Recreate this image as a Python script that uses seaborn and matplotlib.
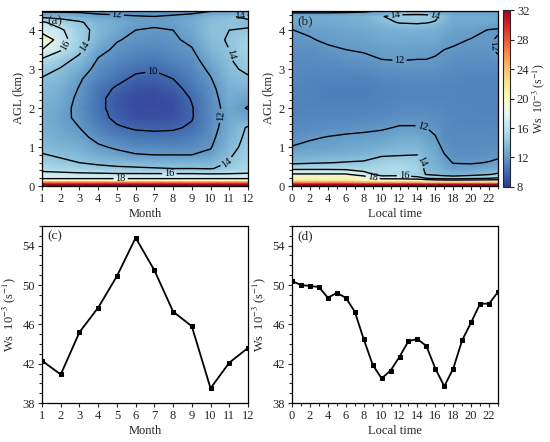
import numpy as np
import pandas as pd
import seaborn as sns
import matplotlib.pyplot as plt
import matplotlib.ticker as ticker

# heights of the profile grid (km AGL)
heights = [0.0, 0.05, 0.1, 0.15, 0.2, 0.3, 0.45, 0.6, 0.8, 1.0, 1.25, 1.5, 1.75,
           2.0, 2.25, 2.5, 2.75, 3.0, 3.25, 3.5, 3.75, 4.0, 4.2, 4.35, 4.5]

# (a) monthly mean profiles of Ws, one list per month
months = list(range(1, 13))
ws_month_height = [
    [33, 32, 27, 20, 17.6, 16.6, 15.4, 14.8, 14.1, 13.6, 13.3, 13.1, 13.0, 13.1, 13.3, 13.6, 13.9, 14.5, 15.8, 18.0, 20.0, 17.0, 16.3, 13.5, 11.5],
    [33, 32, 27, 20, 17.6, 16.5, 15.2, 14.3, 13.8, 13.2, 12.8, 12.5, 12.4, 12.5, 12.7, 13.0, 13.4, 13.9, 14.5, 16.2, 16.8, 16.3, 15.0, 13.3, 11.5],
    [33, 32, 27, 20, 17.6, 16.4, 14.9, 14.0, 13.5, 12.9, 12.4, 12.0, 11.7, 11.6, 11.7, 11.9, 12.2, 12.8, 13.7, 14.3, 14.8, 14.6, 14.2, 13.0, 11.5],
    [33, 32, 27, 20, 17.6, 16.4, 14.5, 13.7, 12.8, 12.2, 11.6, 11.0, 10.6, 10.4, 10.4, 10.6, 11.0, 11.5, 11.9, 12.5, 13.2, 13.5, 13.3, 12.5, 11.3],
    [33, 32, 27, 20, 17.6, 16.3, 14.3, 13.5, 12.4, 11.8, 11.0, 10.2, 9.6, 9.4, 9.4, 9.8, 10.4, 10.9, 11.3, 11.7, 12.1, 12.6, 12.8, 12.3, 11.2],
    [33, 32, 27, 20, 17.6, 16.3, 14.2, 13.4, 12.1, 11.4, 10.6, 9.8, 9.1, 8.9, 8.9, 9.2, 9.7, 10.3, 10.9, 11.3, 11.7, 12.0, 12.3, 12.1, 11.2],
    [33, 32, 27, 20, 17.6, 16.3, 14.1, 13.3, 12.0, 11.3, 10.5, 9.7, 9.0, 8.8, 8.8, 9.1, 9.6, 10.1, 10.7, 11.2, 11.6, 11.9, 12.2, 12.0, 11.2],
    [33, 32, 27, 20, 17.6, 16.3, 14.0, 13.2, 12.0, 11.2, 10.5, 9.8, 9.2, 9.0, 9.1, 9.5, 10.0, 10.6, 11.1, 11.5, 11.8, 12.0, 12.3, 12.2, 11.3],
    [33, 32, 27, 20, 17.6, 16.3, 14.0, 13.2, 12.0, 11.4, 10.9, 10.2, 9.9, 9.9, 10.1, 10.5, 10.9, 11.2, 11.5, 11.9, 12.3, 12.6, 12.8, 12.5, 11.4],
    [33, 32, 27, 20, 17.6, 16.2, 13.9, 13.3, 12.3, 11.9, 11.6, 11.4, 11.3, 11.3, 11.4, 11.6, 11.9, 12.3, 12.8, 13.3, 13.7, 13.9, 13.8, 13.3, 11.8],
    [33, 32, 27, 20, 17.6, 16.2, 14.5, 14.1, 13.8, 13.4, 13.1, 12.8, 12.6, 12.6, 12.8, 13.0, 13.4, 13.7, 13.9, 14.0, 14.1, 14.0, 14.0, 13.8, 12.0],
    [33, 32, 27, 20, 17.6, 16.2, 15.2, 15.0, 14.8, 14.6, 14.4, 14.2, 12.6, 11.9, 12.4, 13.2, 13.8, 14.3, 14.7, 15.0, 14.9, 14.2, 13.5, 14.5, 12.0],
]

# (b) diurnal profiles of Ws, one list per local hour
hours_grid = [0, 2, 4, 6, 8, 10, 12, 14, 15, 16, 17, 18, 20, 22, 23]
ws_hour_height = [
    [33, 32, 26, 22, 21, 18.2, 15.6, 13.6, 12.8, 12.05, 11.6, 11.3, 11.1, 11.0, 11.0, 11.1, 11.2, 11.3, 11.4, 11.6, 11.8, 11.98, 12.6, 12.8, 11.5],
    [33, 32, 26, 22, 21, 18.2, 15.6, 13.8, 12.9, 12.3, 11.85, 11.4, 11.2, 11.0, 11.0, 11.0, 11.1, 11.2, 11.4, 11.6, 11.9, 12.2, 12.6, 12.8, 11.5],
    [33, 32, 26, 22, 21, 18.2, 15.6, 13.95, 13.0, 12.4, 12.05, 11.5, 11.2, 11.0, 10.9, 10.9, 11.0, 11.2, 11.5, 11.8, 12.2, 12.4, 12.7, 12.8, 11.5],
    [33, 32, 26, 22, 21, 18.2, 15.5, 14.1, 13.1, 12.5, 12.2, 11.6, 11.2, 11.0, 10.9, 10.9, 11.0, 11.3, 11.7, 12.0, 12.3, 12.5, 12.8, 13.0, 11.5],
    [33, 32, 25, 21, 19.5, 17.0, 15.0, 14.2, 13.3, 12.6, 12.3, 11.7, 11.3, 11.0, 10.9, 10.9, 11.0, 11.4, 11.8, 12.1, 12.4, 12.6, 13.0, 13.2, 11.6],
    [33, 32, 25, 20, 17.3, 15.2, 15.3, 14.8, 13.8, 13.0, 12.4, 11.85, 11.4, 11.1, 11.0, 11.0, 11.2, 11.6, 12.0, 12.3, 12.6, 12.9, 13.6, 13.9, 12.0],
    [33, 32, 25, 20, 17.2, 15.4, 15.5, 15.0, 13.9, 13.3, 12.7, 12.1, 11.6, 11.3, 11.1, 11.1, 11.3, 11.7, 12.05, 12.4, 12.7, 13.1, 14.1, 14.6, 12.5],
    [33, 32, 25, 19.5, 16.8, 14.8, 14.9, 14.6, 14.0, 13.3, 12.7, 12.1, 11.6, 11.3, 11.1, 11.1, 11.3, 11.7, 12.0, 12.3, 12.6, 13.1, 14.2, 14.7, 12.5],
    [33, 32, 24, 19, 16.0, 13.9, 13.6, 13.4, 13.1, 12.8, 12.4, 12.0, 11.6, 11.3, 11.1, 11.1, 11.3, 11.7, 12.0, 12.3, 12.6, 13.0, 14.1, 14.6, 12.5],
    [33, 32, 24, 18.5, 15.6, 13.6, 13.2, 13.0, 12.7, 12.5, 12.05, 11.8, 11.5, 11.2, 11.1, 11.1, 11.3, 11.7, 11.9, 12.2, 12.6, 12.9, 13.9, 14.3, 12.3],
    [33, 32, 24, 18.3, 15.3, 13.3, 12.8, 12.4, 12.05, 11.7, 11.5, 11.4, 11.3, 11.2, 11.1, 11.1, 11.2, 11.5, 11.8, 12.0, 12.3, 12.6, 13.3, 13.6, 12.2],
    [33, 32, 24, 18.2, 15.2, 13.1, 12.4, 11.95, 11.6, 11.4, 11.3, 11.2, 11.2, 11.1, 11.1, 11.1, 11.2, 11.4, 11.6, 11.9, 12.2, 12.4, 12.7, 12.8, 12.0],
    [33, 32, 24, 18.3, 15.6, 13.4, 12.4, 11.9, 11.6, 11.4, 11.3, 11.2, 11.1, 11.1, 11.0, 11.0, 11.1, 11.3, 11.5, 11.7, 11.95, 12.3, 12.6, 12.7, 12.0],
    [33, 32, 24, 18.5, 16.0, 13.9, 12.6, 12.05, 11.7, 11.5, 11.3, 11.2, 11.1, 11.0, 11.0, 11.0, 11.1, 11.3, 11.6, 11.8, 11.9, 11.95, 12.6, 12.7, 12.0],
    [33, 32, 24, 18.6, 16.2, 14.3, 12.8, 12.2, 11.8, 11.5, 11.3, 11.2, 11.1, 11.0, 11.0, 11.0, 11.1, 11.3, 11.8, 12.2, 12.1, 11.9, 12.5, 12.7, 12.0],
]

# (c) monthly column-mean Ws
ws_month = [42.3, 40.9, 45.2, 47.7, 50.9, 54.8, 51.5, 47.3, 45.8, 39.5, 42.1, 43.6]

# (d) hourly column-mean Ws
hours = list(range(24))
ws_hour = [50.4, 50.0, 49.9, 49.8, 48.7, 49.2, 48.7, 47.3, 44.5, 41.9, 40.5, 41.3,
           42.7, 44.3, 44.5, 43.8, 41.5, 39.7, 41.5, 44.4, 46.2, 48.1, 48.1, 49.3]

# where the contour labels sit
labels_a = [(6.9, 2.95), (10.6, 1.8), (5.0, 4.42), (11.0, 0.55), (3.5, 3.5),
            (11.2, 3.4), (11.6, 4.36), (2.3, 3.6), (7.8, 0.33), (5.2, 0.19)]
labels_b = [(12.0, 3.23), (14.5, 1.45), (14.2, 0.6), (12.5, 0.27), (9.0, 0.21),
            (16.0, 4.42), (22.4, 3.6), (11.5, 4.45)]

#%%
sns.set_style('ticks')
plt.rcParams['font.family'] = ['Liberation Serif', 'DejaVu Serif']
plt.rcParams['mathtext.fontset'] = 'stix'
plt.rcParams['font.size'] = 9
plt.rcParams['axes.linewidth'] = 0.9
plt.rcParams['xtick.major.size'] = 3
plt.rcParams['ytick.major.size'] = 3
plt.rcParams['xtick.minor.size'] = 2
plt.rcParams['ytick.minor.size'] = 2
plt.rcParams['xtick.major.pad'] = 2
plt.rcParams['ytick.major.pad'] = 2

ws_label = 'Ws  10$^{-3}$ (s$^{-1}$)'

fig = plt.figure(figsize=(5.5, 4.42), dpi=100)
ax_a = fig.add_axes([0.0764, 0.579, 0.3745, 0.397])
ax_b = fig.add_axes([0.531, 0.579, 0.3745, 0.397])
cax = fig.add_axes([0.9145, 0.577, 0.0127, 0.40])
ax_c = fig.add_axes([0.0764, 0.0882, 0.3745, 0.4005])
ax_d = fig.add_axes([0.531, 0.0882, 0.3745, 0.4005])


def draw_field(ax, x, profiles, label_pos):
    z = np.array(profiles).T
    mesh = ax.pcolormesh(x, heights, z, shading='gouraud', cmap='RdYlBu_r', vmin=8, vmax=32)
    cs = ax.contour(x, heights, z, levels=[10, 12, 14, 16, 18], colors='k', linewidths=1)
    ax.clabel(cs, fmt='%d', fontsize=7.5, inline=True, inline_spacing=2, manual=label_pos)
    ax.set_ylim(0, 4.5)
    ax.set_ylabel('AGL (km)', labelpad=3)
    ax.yaxis.set_major_locator(ticker.MultipleLocator(1))
    ax.yaxis.set_minor_locator(ticker.MultipleLocator(0.2))
    return mesh


mesh = draw_field(ax_a, months, ws_month_height, labels_a)
ax_a.set_xlim(1, 12)
ax_a.set_xticks(months)
ax_a.set_xlabel('Month', labelpad=2)

draw_field(ax_b, hours_grid, ws_hour_height, labels_b)
ax_b.set_xlim(0, 23)
ax_b.xaxis.set_major_locator(ticker.MultipleLocator(2))
ax_b.xaxis.set_minor_locator(ticker.MultipleLocator(1))
ax_b.set_xlabel('Local time', labelpad=2)

cb = fig.colorbar(mesh, cax=cax, ticks=range(8, 33, 4))
cb.outline.set_linewidth(0.8)
cax.tick_params(length=3, width=0.8, pad=2)
cax.set_ylabel(ws_label, labelpad=1, fontsize=8.5)

# line panels
sns.lineplot(x=months, y=ws_month, ax=ax_c, color='k', linewidth=1.3,
             marker='s', markersize=3, markeredgecolor='k')
ax_c.set_xlim(1, 12)
ax_c.set_xticks(months)
ax_c.set_xlabel('Month', labelpad=2)

sns.lineplot(x=hours, y=ws_hour, ax=ax_d, color='k', linewidth=1.3,
             marker='s', markersize=3, markeredgecolor='k')
ax_d.set_xlim(0, 23)
ax_d.xaxis.set_major_locator(ticker.MultipleLocator(2))
ax_d.xaxis.set_minor_locator(ticker.MultipleLocator(1))
ax_d.set_xlabel('Local time', labelpad=2)

for ax in [ax_c, ax_d]:
    ax.set_ylim(38, 56)
    ax.set_yticks([38, 42, 46, 50, 54])
    ax.yaxis.set_minor_locator(ticker.MultipleLocator(1))
    ax.set_ylabel(ws_label, labelpad=3)

for ax, tag in zip([ax_a, ax_b, ax_c, ax_d], ['(a)', '(b)', '(c)', '(d)']):
    ax.text(0.025, 0.975, tag, transform=ax.transAxes, ha='left', va='top', fontsize=9.5)
    ax.tick_params(which='both', direction='out', width=0.8, top=False, right=False)
    for s in ax.spines.values():
        s.set_visible(True)
        s.set_color('k')

plt.savefig('out.png', dpi=100)
